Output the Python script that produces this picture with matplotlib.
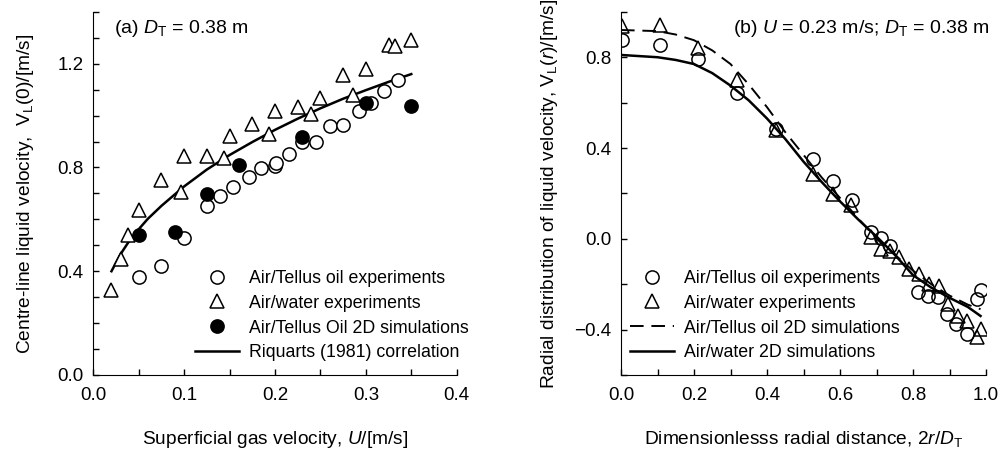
import numpy as np
import matplotlib
matplotlib.use("Agg")
import matplotlib.pyplot as plt
from matplotlib.ticker import MultipleLocator
from matplotlib.lines import Line2D

plt.rcParams['font.family'] = ['Liberation Sans', 'DejaVu Sans']
plt.rcParams['mathtext.fontset'] = 'custom'
plt.rcParams['mathtext.rm'] = 'Liberation Sans'
plt.rcParams['mathtext.it'] = 'Liberation Sans:italic'

# (a) centre-line liquid velocity vs superficial gas velocity
oil_exp_u = [0.05, 0.075, 0.10, 0.125, 0.14, 0.154, 0.171, 0.185, 0.20, 0.201,
             0.215, 0.23, 0.245, 0.26, 0.275, 0.292, 0.306, 0.32, 0.335]
oil_exp_v = [0.378, 0.419, 0.528, 0.651, 0.69, 0.724, 0.765, 0.797, 0.804, 0.818,
             0.853, 0.897, 0.90, 0.958, 0.962, 1.017, 1.047, 1.096, 1.138]
water_exp_u = [0.02, 0.03, 0.038, 0.05, 0.075, 0.097, 0.10, 0.125, 0.144, 0.15,
               0.175, 0.193, 0.20, 0.225, 0.24, 0.25, 0.275, 0.286, 0.30, 0.325,
               0.332, 0.35]
water_exp_v = [0.327, 0.449, 0.541, 0.635, 0.75, 0.705, 0.846, 0.846, 0.836, 0.923,
               0.968, 0.93, 1.019, 1.035, 1.006, 1.068, 1.158, 1.081, 1.18, 1.273,
               1.267, 1.29]
oil_sim_u = [0.05, 0.09, 0.125, 0.16, 0.23, 0.30, 0.35]
oil_sim_v = [0.541, 0.551, 0.699, 0.81, 0.919, 1.047, 1.038]
riq_u = [0.02, 0.03, 0.04, 0.05, 0.06, 0.075, 0.10, 0.125, 0.15, 0.175, 0.20,
         0.225, 0.25, 0.275, 0.30, 0.325, 0.35]
riq_v = [0.40, 0.466, 0.519, 0.562, 0.602, 0.652, 0.727, 0.792, 0.848, 0.898, 0.945,
         0.988, 1.028, 1.065, 1.098, 1.130, 1.160]

# (b) radial distribution of liquid velocity
oil_r = [0.002, 0.107, 0.21, 0.317, 0.424, 0.527, 0.58, 0.632, 0.685, 0.711,
         0.737, 0.813, 0.84, 0.869, 0.892, 0.919, 0.947, 0.974, 0.985]
oil_vr = [0.875, 0.856, 0.794, 0.644, 0.485, 0.353, 0.254, 0.169, 0.029, 0.004,
          -0.03, -0.235, -0.25, -0.258, -0.331, -0.375, -0.419, -0.265, -0.225]
water_r = [0.002, 0.107, 0.21, 0.317, 0.424, 0.527, 0.58, 0.63, 0.685, 0.711,
           0.737, 0.762, 0.79, 0.817, 0.845, 0.872, 0.897, 0.922, 0.949, 0.974,
           0.985]
water_vr = [0.936, 0.941, 0.841, 0.698, 0.481, 0.287, 0.198, 0.147, 0.007, -0.044,
            -0.052, -0.078, -0.132, -0.154, -0.199, -0.206, -0.287, -0.338, -0.36,
            -0.434, -0.397]
oil_sim_r = [0.0, 0.1, 0.15, 0.2, 0.25, 0.3, 0.35, 0.4, 0.45, 0.5, 0.55, 0.6, 0.65,
             0.7, 0.75, 0.8, 0.85, 0.9, 0.95, 0.985]
oil_sim_vr = [0.92, 0.915, 0.90, 0.875, 0.83, 0.77, 0.68, 0.58, 0.47, 0.37, 0.27,
              0.18, 0.09, 0.0, -0.07, -0.14, -0.20, -0.25, -0.29, -0.31]
water_sim_r = [0.0, 0.1, 0.15, 0.2, 0.25, 0.3, 0.35, 0.4, 0.45, 0.5, 0.55, 0.6, 0.65,
               0.7, 0.75, 0.8, 0.85, 0.9, 0.95, 0.985]
water_sim_vr = [0.81, 0.80, 0.788, 0.77, 0.73, 0.675, 0.61, 0.53, 0.44, 0.34, 0.25,
                0.165, 0.085, 0.01, -0.07, -0.16, -0.215, -0.26, -0.30, -0.34]

fig = plt.figure(figsize=(10, 4.5), dpi=100)
ax1 = fig.add_axes([0.0933, 0.1667, 0.3634, 0.807])
ax2 = fig.add_axes([0.621, 0.1667, 0.365, 0.807])

mk = dict(linestyle='none', markersize=9.5, markeredgewidth=1.1, markeredgecolor='black')
lab_fs = 13.8
leg_fs = 12.8

ax1.plot(riq_u, riq_v, color='black', lw=1.8)
ax1.plot(water_exp_u, water_exp_v, marker='^', markerfacecolor='white', **mk)
ax1.plot(oil_exp_u, oil_exp_v, marker='o', markerfacecolor='white', **mk)
ax1.plot(oil_sim_u, oil_sim_v, marker='o', markerfacecolor='black', **mk)

ax2.plot(water_r, water_vr, marker='^', markerfacecolor='none', **mk)
ax2.plot(oil_r, oil_vr, marker='o', markerfacecolor='none', **mk)
ax2.plot(oil_sim_r, oil_sim_vr, color='black', lw=1.4, dashes=(7, 4))
ax2.plot(water_sim_r, water_sim_vr, color='black', lw=1.8)

for ax in (ax1, ax2):
    for s in ('top', 'right'):
        ax.spines[s].set_visible(False)
    ax.tick_params(which='both', direction='in', length=4, width=1, labelsize=13.5)
    ax.tick_params(axis='x', pad=9)
    ax.tick_params(axis='y', pad=7)

ax1.set_xlim(0, 0.4)
ax1.set_ylim(0, 1.4)
ax1.xaxis.set_major_locator(MultipleLocator(0.1))
ax1.xaxis.set_minor_locator(MultipleLocator(0.05))
ax1.yaxis.set_major_locator(MultipleLocator(0.4))
ax1.yaxis.set_minor_locator(MultipleLocator(0.1))
ax1.xaxis.set_major_formatter('{x:.1f}')
ax1.yaxis.set_major_formatter('{x:.1f}')
ax1.set_xlabel('Superficial gas velocity, $U$/[m/s]', fontsize=lab_fs, labelpad=18)
ax1.set_ylabel(r'Centre-line liquid velocity,  V$_\mathrm{L}$(0)/[m/s]', fontsize=lab_fs, labelpad=15)
ax1.text(0.057, 0.955, r'(a) $D_\mathrm{T}$ = 0.38 m', transform=ax1.transAxes,
         fontsize=14, va='center')

ax2.set_xlim(0, 1.0)
ax2.set_ylim(-0.6, 1.0)
ax2.xaxis.set_major_locator(MultipleLocator(0.2))
ax2.xaxis.set_minor_locator(MultipleLocator(0.1))
ax2.yaxis.set_major_locator(MultipleLocator(0.4))
ax2.yaxis.set_minor_locator(MultipleLocator(0.2))
ax2.xaxis.set_major_formatter('{x:.1f}')
ax2.yaxis.set_major_formatter('{x:.1f}')
ax2.set_xlabel(r'Dimensionlesss radial distance, 2$r$/$D_\mathrm{T}$', fontsize=lab_fs, labelpad=18)
ax2.set_ylabel(r'Radial distribution of liquid velocity, V$_\mathrm{L}$($r$)/[m/s]',
               fontsize=lab_fs, labelpad=10)
ax2.text(1.011, 0.955, r'(b) $U$ = 0.23 m/s; $D_\mathrm{T}$ = 0.38 m', transform=ax2.transAxes,
         fontsize=14, va='center', ha='right')

leg_kw = dict(loc='lower left', frameon=False, fontsize=leg_fs, handlelength=2.5,
              handletextpad=0.56, labelspacing=0.44, borderaxespad=0)

h1 = [Line2D([], [], marker='o', markerfacecolor='white', **mk),
      Line2D([], [], marker='^', markerfacecolor='white', **mk),
      Line2D([], [], marker='o', markerfacecolor='black', **mk),
      Line2D([], [], color='black', lw=1.8)]
ax1.legend(h1, ['Air/Tellus oil experiments', 'Air/water experiments',
                'Air/Tellus Oil 2D simulations', 'Riquarts (1981) correlation'],
           bbox_to_anchor=(0.26, 0.018), **leg_kw)

h2 = [Line2D([], [], marker='o', markerfacecolor='white', **mk),
      Line2D([], [], marker='^', markerfacecolor='white', **mk),
      Line2D([], [], color='black', lw=1.4, dashes=(7, 4)),
      Line2D([], [], color='black', lw=1.8)]
ax2.legend(h2, ['Air/Tellus oil experiments', 'Air/water experiments',
                'Air/Tellus oil 2D simulations', 'Air/water 2D simulations'],
           bbox_to_anchor=(0.005, 0.018), **leg_kw)

fig.savefig('out.png', dpi=100)
